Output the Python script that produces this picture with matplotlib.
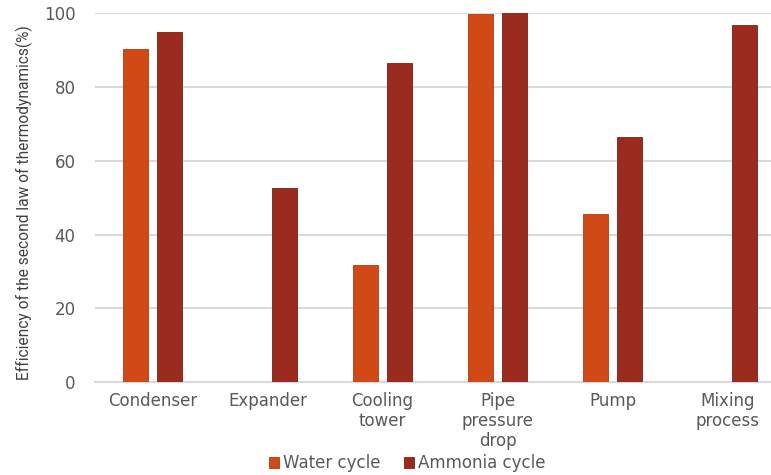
import matplotlib.pyplot as plt
import numpy as np

plt.rcParams['font.family'] = ['DejaVu Sans']

components = ['Condenser', 'Expander', 'Cooling\ntower', 'Pipe\npressure\ndrop', 'Pump', 'Mixing\nprocess']
water_cycle = [90.3, 0, 31.8, 99.8, 45.6, 0]
ammonia_cycle = [95.0, 52.7, 86.6, 100.0, 66.5, 96.9]

water_color = '#D04916'
ammonia_color = '#9B2B1F'
grid_color = '#D9D9D9'
text_color = '#595959'

fig = plt.figure(figsize=(7.71, 4.75), dpi=100)
ax = fig.add_axes([0.1232, 0.1952, 0.8768, 0.777])

x = np.arange(len(components))
width = 0.22
offset = 0.145
ax.bar(x - offset, water_cycle, width, color=water_color, edgecolor='#B03A10',
       linewidth=0.6, label='Water cycle', zorder=3)
ax.bar(x + offset, ammonia_cycle, width, color=ammonia_color, edgecolor='#7A1E14',
       linewidth=0.6, label='Ammonia cycle', zorder=3)

ax.set_xlim(-0.5, -0.5 + 676 / 115)
ax.set_ylim(0, 100)
ax.set_yticks([0, 20, 40, 60, 80, 100])
ax.set_xticks(x)
ax.set_xticklabels(components, linespacing=1.15)
ax.tick_params(axis='both', length=0, labelsize=12, colors=text_color)
ax.tick_params(axis='x', pad=7)
ax.tick_params(axis='y', pad=14)

ax.grid(axis='y', color=grid_color, linewidth=1.5, zorder=0)
for side in ['top', 'right', 'left']:
    ax.spines[side].set_visible(False)
ax.spines['bottom'].set_color(grid_color)
ax.spines['bottom'].set_linewidth(1.5)

ax.set_ylabel('Efficiency of the second law of thermodynamics(%)', fontsize=11.2,
              color='#404040', family=['Roboto', 'DejaVu Sans'])
ax.yaxis.set_label_coords(-0.0917, 0.487)

fig.legend(loc='center', bbox_to_anchor=(0.528, 0.025), ncol=2, frameon=False,
           fontsize=12, handlelength=0.6, handleheight=0.6, handletextpad=0.25,
           columnspacing=1.4, labelcolor=text_color)

fig.savefig('out.png', dpi=100)
